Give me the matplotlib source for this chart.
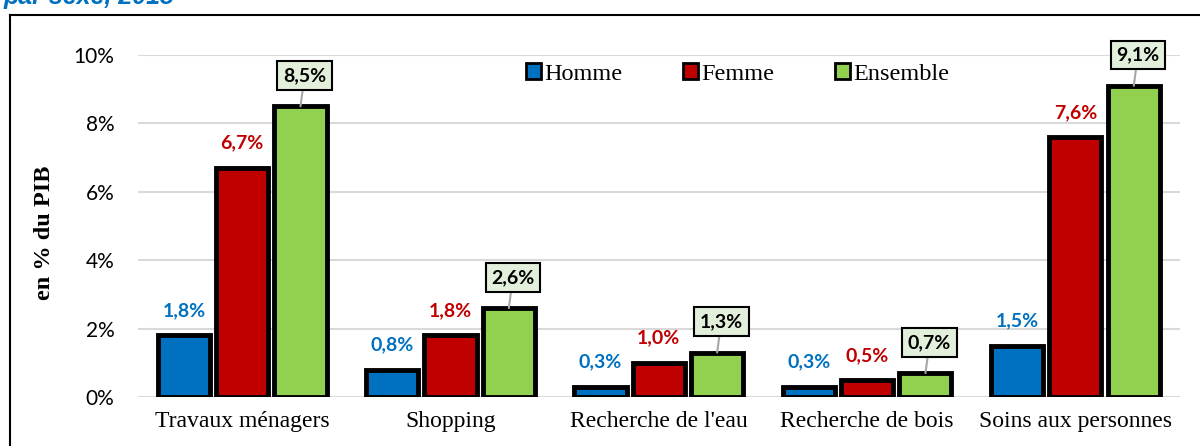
import numpy as np
import matplotlib
matplotlib.use('Agg')
import matplotlib.pyplot as plt
import matplotlib.patheffects as pe
from matplotlib.patches import Patch
from matplotlib.lines import Line2D


categories = ['Travaux ménagers', 'Shopping', "Recherche de l'eau",
              'Recherche de bois', 'Soins aux personnes']
homme = [1.8, 0.8, 0.3, 0.3, 1.5]
femme = [6.7, 1.8, 1.0, 0.5, 7.6]
ensemble = [8.5, 2.6, 1.3, 0.7, 9.1]
series_names = ['Homme', 'Femme', 'Ensemble']
yticks = [0, 2, 4, 6, 8, 10]

BLUE = '#0070C0'
RED = '#C00000'
GREEN = '#92D050'
SERIF = 'Liberation Serif'
SANS = 'Lato'


def fmt(v):
    return f'{v:.1f}'.replace('.', ',') + '%'


def main():
    fig = plt.figure(figsize=(12, 4.46), dpi=100)
    ax = fig.add_axes([0.115, 0.1099, 0.868, 0.7668])

    x = np.arange(len(categories))
    w = 0.25
    step = 0.28
    shadow = [pe.SimplePatchShadow(offset=(0.5, -2.5), shadow_rgbFace='#7f7f7f', alpha=0.8), pe.Normal()]

    for vals, off, col in [(homme, -step, BLUE), (femme, 0, RED), (ensemble, step, GREEN)]:
        bars = ax.bar(x + off, vals, width=w, color=col, edgecolor='black', linewidth=3.5, zorder=3)
        for b in bars:
            b.set_path_effects(shadow)

    for xi, v in zip(x - step, homme):
        ax.text(xi, v + 0.72, fmt(v), color=BLUE, ha='center', va='center',
                fontsize=14, fontweight='bold', family=SANS)
    for xi, v in zip(x, femme):
        ax.text(xi, v + 0.72, fmt(v), color=RED, ha='center', va='center',
                fontsize=14, fontweight='bold', family=SANS)
    for xi, v in zip(x + step, ensemble):
        ax.annotate(fmt(v), xy=(xi, v), xytext=(xi + 0.02, v + 0.9),
                    ha='center', va='center', fontsize=14, fontweight='bold', family=SANS,
                    bbox=dict(boxstyle='square,pad=0.3', fc='#E2EFDA', ec='black', lw=1.5),
                    arrowprops=dict(arrowstyle='-', color='#A6A6A6', lw=1.5, shrinkA=0, shrinkB=0),
                    annotation_clip=False, zorder=5)

    ax.set_xlim(-0.5, len(categories) - 0.5)
    ax.set_ylim(0, 10)
    ax.set_yticks(yticks)
    ax.set_yticklabels([f'{t}%' for t in yticks], family=SANS, fontsize=15)
    ax.set_xticks(x)
    ax.set_xticklabels(categories, family=SERIF, fontsize=17)
    ax.tick_params(length=0)
    ax.tick_params(axis='y', pad=17)
    ax.tick_params(axis='x', pad=10)
    ax.grid(axis='y', color='#D9D9D9', lw=1.5, zorder=0)
    for s in ax.spines.values():
        s.set_visible(False)
    ax.set_ylabel('en % du PIB', family=SERIF, fontsize=17.5, fontweight='bold', labelpad=11)
    ax.yaxis.set_label_coords(-0.08, 0.48)

    handles = [Patch(facecolor=c, edgecolor='black', lw=2) for c in (BLUE, RED, GREEN)]
    fig.legend(handles, series_names, loc='center', bbox_to_anchor=(0.615, 1 - 74 / 446),
               ncol=3, frameon=False, prop={'family': SERIF, 'size': 17.5},
               handlelength=0.6, handleheight=0.6, handletextpad=0.15, columnspacing=2.5)

    # outer frame (top and left edges visible)
    fig.add_artist(Line2D([10 / 1200, 1.0], [1 - 15 / 446, 1 - 15 / 446], color='black', lw=1.5,
                          transform=fig.transFigure))
    fig.add_artist(Line2D([10 / 1200, 10 / 1200], [0, 1 - 15 / 446], color='black', lw=1.5,
                          transform=fig.transFigure))

    # title, clipped at the top of the image
    fig.text(0.003, 1 - 4 / 446, 'par sexe, 2015', color=BLUE, fontsize=18,
             fontweight='bold', style='italic', family='Liberation Sans', va='baseline')

    fig.savefig('out.png', dpi=100)


if __name__ == '__main__':
    main()
